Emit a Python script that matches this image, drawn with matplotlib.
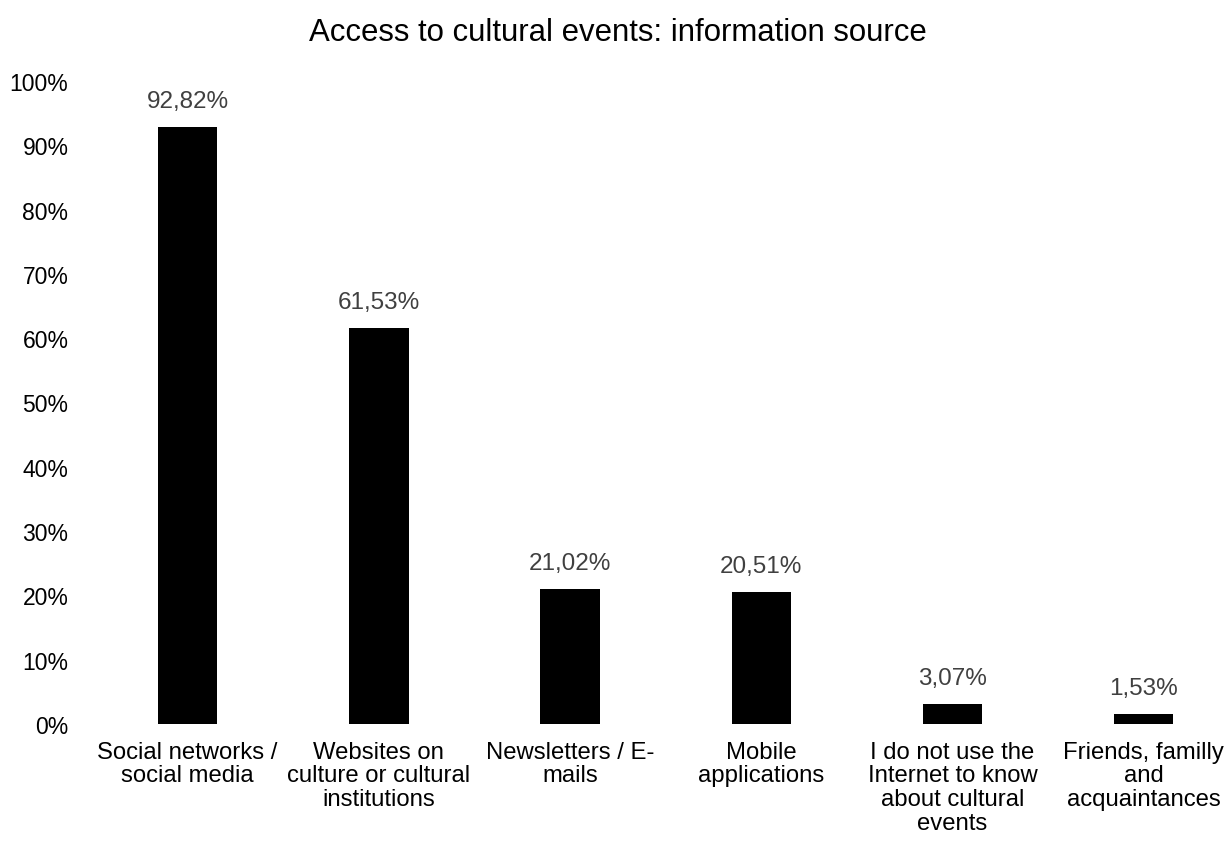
import matplotlib.pyplot as plt
from matplotlib.ticker import PercentFormatter

plt.rcParams['font.family'] = ['Liberation Sans', 'DejaVu Sans']

categories = [
    "Social networks /\nsocial media",
    "Websites on\nculture or cultural\ninstitutions",
    "Newsletters / E-\nmails",
    "Mobile\napplications",
    "I do not use the\nInternet to know\nabout cultural\nevents",
    "Friends, familly\nand\nacquaintances",
]
shares = [92.82, 61.53, 21.02, 20.51, 3.07, 1.53]
value_labels = ["92,82%", "61,53%", "21,02%", "20,51%", "3,07%", "1,53%"]

fig = plt.figure(figsize=(12.28, 8.45), dpi=100)
ax = fig.add_axes([92 / 1228, 1 - 725 / 845, (1228 - 92) / 1228, (725 - 82) / 845])

x = range(len(categories))
bars = ax.bar(x, shares, width=0.31, color='black')
for b, lbl in zip(bars, value_labels):
    ax.annotate(lbl, (b.get_x() + b.get_width() / 2, b.get_height()),
                xytext=(0, 11), textcoords='offset points',
                ha='center', va='bottom', fontsize=17.5, color='#404040')

ax.set_xlim(-0.5, 5.44)
ax.set_ylim(0, 100)
ax.set_yticks(range(0, 101, 10))
ax.yaxis.set_major_formatter(PercentFormatter(decimals=0))
ax.set_xticks(list(x))
ax.set_xticklabels(categories, fontsize=17.2, linespacing=1.1)
ax.tick_params(axis='y', labelsize=16.5, length=0, pad=17)
ax.tick_params(axis='x', length=0, pad=12)
for s in ax.spines.values():
    s.set_visible(False)

fig.text(618 / 1228, 1 - 33 / 845, "Access to cultural events: information source",
         ha='center', va='center', fontsize=22.4)

fig.savefig('out.png', dpi=100)
